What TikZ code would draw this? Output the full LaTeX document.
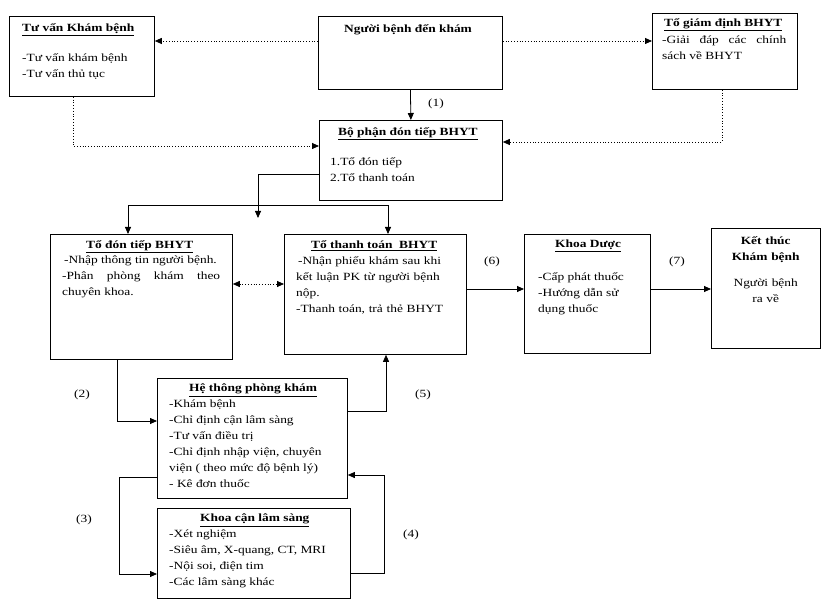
\documentclass[tikz,border=0pt]{standalone}
\usepackage{fontspec}
\setmainfont[FakeStretch=1.22]{Liberation Serif}
\usetikzlibrary{arrows.meta}
\begin{document}
\begin{tikzpicture}[x=1pt,y=-1pt,
  box/.style={draw,line width=0.8pt},
  txt/.style={anchor=north west,inner sep=0pt,font=\fontsize{11}{16}\selectfont,align=left},
  arr/.style={-{Triangle[length=7pt,width=6pt]},line width=0.8pt},
  dot/.style={arr,dotted},
  lab/.style={font=\fontsize{11}{13}\selectfont}]
\useasboundingbox (0,0) rectangle (829,609);
% boxes
\node (tvb) [box,minimum width=145pt,minimum height=80pt,anchor=north west] at (9,16) {};
\node (nb) [box,minimum width=184pt,minimum height=73pt,anchor=north west] at (318,16) {};
\node (gd) [box,minimum width=145pt,minimum height=76pt,anchor=north west] at (652,13) {};
\node (bp) [box,minimum width=183pt,minimum height=80pt,anchor=north west] at (319,120) {};
\node (dt) [box,minimum width=182pt,minimum height=125pt,anchor=north west] at (50,234) {};
\node (tt) [box,minimum width=182pt,minimum height=120pt,anchor=north west] at (284,234) {};
\node (kd) [box,minimum width=126pt,minimum height=119pt,anchor=north west] at (524,234) {};
\node (kt) [box,minimum width=109pt,minimum height=120pt,anchor=north west] at (711,228) {};
\node (ht) [box,minimum width=190pt,minimum height=120pt,anchor=north west] at (157,378) {};
\node (kc) [box,minimum width=193pt,minimum height=90pt,anchor=north west] at (157,508) {};
% texts
\node[txt] at (22,23) {\textbf{\underline{Tư vấn Khám bệnh}}};
\node[txt] at (22,53) {-Tư vấn khám bệnh\\-Tư vấn thủ tục};
\node[txt] at (344,24) {\textbf{Người bệnh đến khám}};
\node[txt] at (664,18) {\textbf{\underline{Tổ giám định BHYT}}};
\node[txt,text width=124pt,align=justify] at (662,36) {-Giải đáp các chính sách về BHYT};
\node[txt] at (338,127) {\textbf{\underline{Bộ phận đón tiếp BHYT}}};
\node[txt] at (330,157) {1.Tổ đón tiếp\\2.Tổ thanh toán};
\node[txt] at (86,240) {\textbf{\underline{Tổ đón tiếp BHYT}}};
\node[txt,text width=158pt,align=justify] at (62,256) {\hspace{2pt}-Nhập thông tin người bệnh.\\-Phân phòng khám theo chuyên khoa.};
\node[txt] at (311,240) {\textbf{\underline{Tổ thanh toán\ \ BHYT}}};
\node[txt,text width=150pt] at (296,256) {\hspace{2pt}-Nhận phiếu khám sau khi kết luận PK từ người bệnh nộp.\\-Thanh toán, trả thẻ BHYT};
\node[txt] at (555,240) {\textbf{\underline{Khoa Dược}}};
\node[txt] at (538,272) {-Cấp phát thuốc\\-Hướng dẫn sử\\dụng thuốc};
\node[txt,align=center,text width=109pt] at (711,236) {\textbf{Kết thúc}\\\textbf{Khám bệnh}\\[10pt]Người bệnh\\ra về};
\node[txt] at (189,384) {\textbf{\underline{Hệ thông phòng khám}}};
\node[txt] at (169,400) {-Khám bệnh\\-Chỉ định cận lâm sàng\\-Tư vấn điều trị\\-Chỉ định nhập viện, chuyên\\viện ( theo mức độ bệnh lý)\\- Kê đơn thuốc};
\node[txt] at (200,514) {\textbf{\underline{Khoa cận lâm sàng}}};
\node[txt] at (169,530) {-Xét nghiệm\\-Siêu âm, X-quang, CT, MRI\\-Nội soi, điện tim\\-Các lâm sàng khác};
% connectors
\draw[dot] (nb.west|-0,41) -- (tvb.east|-0,41);
\draw[dot] (nb.east|-0,41) -- (gd.west|-0,41);
\draw[arr] (nb.south) -- (bp.north);
\node[lab] (l1) at (436,104) {(1)};
\draw[dot] (tvb.south-|73,0) -- (73,146) -- (bp.west|-0,146);
\draw[dot] (gd.south-|722,0) -- (722,142) -- (bp.east|-0,142);
\draw[arr] (bp.west|-0,174) -- (258,174) -- (258,218);
\draw[arr] (258,205) -- (128,205) -- (dt.north-|128,0);
\draw[arr] (258,205) -- (388,205) -- (tt.north-|388,0);
\draw[dot,{Triangle[length=7pt,width=6pt]}-{Triangle[length=7pt,width=6pt]}] (dt.east|-0,284) -- (tt.west|-0,284);
\draw[arr] (tt.east|-0,289) -- (kd.west|-0,289);
\node[lab] at (492,262) {(6)};
\draw[arr] (kd.east|-0,289) -- (kt.west|-0,289);
\node[lab] at (677,262) {(7)};
\draw[arr] (dt.south-|117,0) -- (117,421) -- (ht.west|-0,421);
\node[lab] at (82,395) {(2)};
\draw[arr] (ht.east|-0,411) -- (386,411) -- (tt.south-|386,0);
\node[lab] at (423,395) {(5)};
\draw[arr] (ht.west|-0,477) -- (119,477) -- (119,574) -- (kc.west|-0,574);
\node[lab] at (84,520) {(3)};
\draw[arr] (kc.east|-0,573) -- (384,573) -- (384,475) -- (ht.east|-0,475);
\node[lab] at (411,535) {(4)};
\end{tikzpicture}
\end{document}
